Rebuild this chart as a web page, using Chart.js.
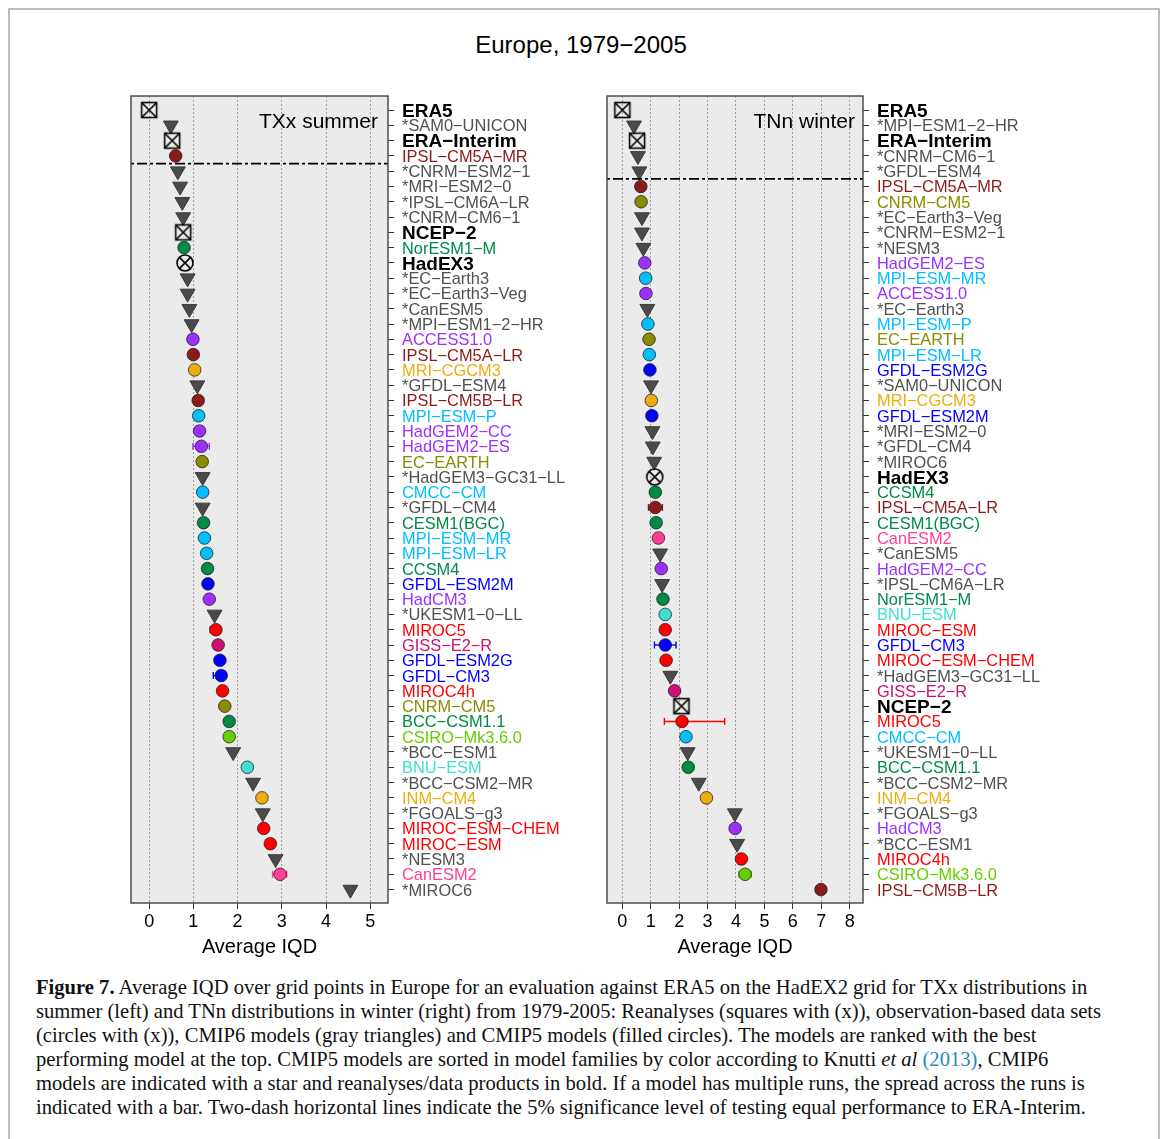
<!DOCTYPE html>
<html><head><meta charset="utf-8">
<script src="https://cdn.jsdelivr.net/npm/chart.js@4.4.1/dist/chart.umd.min.js"></script>
<style>
html,body{margin:0;padding:0;background:#fff;}
body{width:1168px;height:1139px;position:relative;overflow:hidden;font-family:'Liberation Sans',Arial,sans-serif;color:#000;}
#frame{position:absolute;left:8px;top:8px;width:1152px;height:1150px;border:2px solid #bdbdbd;box-sizing:border-box;}
#title{position:absolute;left:0;width:1162px;top:31px;text-align:center;font-size:24px;line-height:28px;}
.ptitle{position:absolute;top:108px;font-size:21px;line-height:25px;text-align:right;}
.wrap{position:absolute;top:86px;width:480px;height:873px;}
#caption{position:absolute;left:36px;top:975px;font-family:'Liberation Serif','Times New Roman',serif;font-size:20.6px;line-height:24px;white-space:nowrap;color:#111;}
#caption a{color:#1d8ac4;text-decoration:none;}
</style></head>
<body>
<div id="frame"></div>
<div id="title">Europe, 1979−2005</div>
<div class="wrap" style="left:111px"><canvas id="cL" width="480" height="873"></canvas></div>
<div class="wrap" style="left:587px"><canvas id="cR" width="480" height="873"></canvas></div>
<div class="ptitle" style="left:0;width:378px">TXx summer</div>
<div class="ptitle" style="left:0;width:855px">TNn winter</div>
<div id="caption"><b>Figure 7.</b> Average IQD over grid points in Europe for an evaluation against ERA5 on the HadEX2 grid for TXx distributions in<br>summer (left) and TNn distributions in winter (right) from 1979-2005: Reanalyses (squares with (x)), observation-based data sets<br>(circles with (x)), CMIP6 models (gray triangles) and CMIP5 models (filled circles). The models are ranked with the best<br>performing model at the top. CMIP5 models are sorted in model families by color according to Knutti <i>et al</i> <a>(2013)</a>, CMIP6<br>models are indicated with a star and reanalyses/data products in bold. If a model has multiple runs, the spread across the runs is<br>indicated with a bar. Two-dash horizontal lines indicate the 5% significance level of testing equal performance to ERA-Interim.</div>
<script>
// ---------------- DATA ----------------
const leftNames = ["ERA5","*SAM0-UNICON","ERA-Interim","IPSL-CM5A-MR","*CNRM-ESM2-1","*MRI-ESM2-0","*IPSL-CM6A-LR","*CNRM-CM6-1","NCEP-2","NorESM1-M","HadEX3","*EC-Earth3","*EC-Earth3-Veg","*CanESM5","*MPI-ESM1-2-HR","ACCESS1.0","IPSL-CM5A-LR","MRI-CGCM3","*GFDL-ESM4","IPSL-CM5B-LR","MPI-ESM-P","HadGEM2-CC","HadGEM2-ES","EC-EARTH","*HadGEM3-GC31-LL","CMCC-CM","*GFDL-CM4","CESM1(BGC)","MPI-ESM-MR","MPI-ESM-LR","CCSM4","GFDL-ESM2M","HadCM3","*UKESM1-0-LL","MIROC5","GISS-E2-R","GFDL-ESM2G","GFDL-CM3","MIROC4h","CNRM-CM5","BCC-CSM1.1","CSIRO-Mk3.6.0","*BCC-ESM1","BNU-ESM","*BCC-CSM2-MR","INM-CM4","*FGOALS-g3","MIROC-ESM-CHEM","MIROC-ESM","*NESM3","CanESM2","*MIROC6"];
const leftIQD = [0,0.49,0.52,0.60,0.65,0.70,0.75,0.77,0.77,0.79,0.81,0.87,0.87,0.91,0.96,0.99,1.00,1.03,1.09,1.11,1.12,1.14,1.18,1.20,1.21,1.21,1.21,1.23,1.25,1.30,1.32,1.33,1.36,1.48,1.51,1.56,1.60,1.63,1.66,1.71,1.81,1.81,1.90,2.22,2.35,2.55,2.57,2.59,2.74,2.86,2.96,4.55];
const leftSpreadModels = ["HadGEM2-ES","MIROC5","GFDL-CM3","CanESM2"];
const leftSpreadLow  = [0.99,1.38,1.45,2.79];
const leftSpreadHigh = [1.36,1.60,1.70,3.11];
const leftSigRank = 4;   // significance line below this rank

const rightNames = ["ERA5","*MPI-ESM1-2-HR","ERA-Interim","*CNRM-CM6-1","*GFDL-ESM4","IPSL-CM5A-MR","CNRM-CM5","*EC-Earth3-Veg","*CNRM-ESM2-1","*NESM3","HadGEM2-ES","MPI-ESM-MR","ACCESS1.0","*EC-Earth3","MPI-ESM-P","EC-EARTH","MPI-ESM-LR","GFDL-ESM2G","*SAM0-UNICON","MRI-CGCM3","GFDL-ESM2M","*MRI-ESM2-0","*GFDL-CM4","*MIROC6","HadEX3","CCSM4","IPSL-CM5A-LR","CESM1(BGC)","CanESM2","*CanESM5","HadGEM2-CC","*IPSL-CM6A-LR","NorESM1-M","BNU-ESM","MIROC-ESM","GFDL-CM3","MIROC-ESM-CHEM","*HadGEM3-GC31-LL","GISS-E2-R","NCEP-2","MIROC5","CMCC-CM","*UKESM1-0-LL","BCC-CSM1.1","*BCC-CSM2-MR","INM-CM4","*FGOALS-g3","HadCM3","*BCC-ESM1","MIROC4h","CSIRO-Mk3.6.0","IPSL-CM5B-LR"];
const rightIQD = [0,0.41,0.52,0.55,0.60,0.65,0.66,0.69,0.69,0.74,0.79,0.82,0.83,0.88,0.90,0.94,0.95,0.97,1.01,1.02,1.04,1.06,1.07,1.12,1.14,1.16,1.16,1.19,1.27,1.33,1.37,1.40,1.43,1.51,1.51,1.51,1.54,1.69,1.84,2.08,2.10,2.24,2.30,2.32,2.69,2.96,3.96,3.97,4.04,4.19,4.32,6.99];
const rightSpreadModels = ["IPSL-CM5A-LR","GFDL-CM3","MIROC5","CSIRO-Mk3.6.0"];
const rightSpreadLow  = [0.92,1.13,1.48,4.10];
const rightSpreadHigh = [1.41,1.89,3.60,4.54];
const rightSigRank = 5;

const leftXTicks = [0,1,2,3,4,5];
const rightXTicks = [0,1,2,3,4,5,6,7,8];

// ---------------- STYLE ----------------
const reanalyses = ["ERA5","ERA-Interim","NCEP-2"];
const observations = ["HadEX3"];
const familyColor = {
  "IPSL-CM5A-MR":"#8B1A1A","IPSL-CM5A-LR":"#8B1A1A","IPSL-CM5B-LR":"#8B1A1A",
  "CNRM-CM5":"#8B8B00","EC-EARTH":"#8B8B00",
  "NorESM1-M":"#008B45","CESM1(BGC)":"#008B45","CCSM4":"#008B45","BCC-CSM1.1":"#008B45",
  "ACCESS1.0":"#9B30FF","HadGEM2-CC":"#9B30FF","HadGEM2-ES":"#9B30FF","HadCM3":"#9B30FF",
  "MRI-CGCM3":"#EEAD0E","INM-CM4":"#EEAD0E",
  "MPI-ESM-P":"#00BFFF","MPI-ESM-MR":"#00BFFF","MPI-ESM-LR":"#00BFFF","CMCC-CM":"#00BFFF",
  "GFDL-ESM2M":"#0000FF","GFDL-ESM2G":"#0000FF","GFDL-CM3":"#0000FF",
  "MIROC5":"#FF0000","MIROC4h":"#FF0000","MIROC-ESM":"#FF0000","MIROC-ESM-CHEM":"#FF0000",
  "GISS-E2-R":"#CD1076","CSIRO-Mk3.6.0":"#66CD00","BNU-ESM":"#40E0D0","CanESM2":"#FF3E96"
};
const CMIP6_GRAY = "#4a4a4a";
function kind(n){
  if (reanalyses.includes(n)) return "rea";
  if (observations.includes(n)) return "obs";
  if (n.startsWith("*")) return "cmip6";
  return "cmip5";
}
function labelColor(n){
  const k = kind(n);
  if (k==="rea"||k==="obs") return "#000";
  if (k==="cmip6") return "#505050";
  return familyColor[n] || "#000";
}
function disp(n){ return n.replace(/-/g,"\u2212"); }

function makeBoxX(){
  const c=document.createElement('canvas'); c.width=20; c.height=20;
  const g=c.getContext('2d'); g.strokeStyle='#000'; g.lineWidth=1.6;
  g.strokeRect(2.5,2.5,15,15);
  g.beginPath(); g.moveTo(2.5,2.5); g.lineTo(17.5,17.5); g.moveTo(17.5,2.5); g.lineTo(2.5,17.5); g.stroke();
  return c;
}
function makeCircX(){
  const c=document.createElement('canvas'); c.width=20; c.height=20;
  const g=c.getContext('2d'); g.strokeStyle='#000'; g.lineWidth=1.6;
  g.beginPath(); g.arc(10,10,8,0,Math.PI*2); g.stroke();
  const d=8*Math.SQRT1_2;
  g.beginPath(); g.moveTo(10-d,10-d); g.lineTo(10+d,10+d); g.moveTo(10+d,10-d); g.lineTo(10-d,10+d); g.stroke();
  return c;
}
const BOXX = makeBoxX(), CIRCX = makeCircX();

Chart.defaults.font.family = "'Liberation Sans', Arial, Helvetica, sans-serif";
Chart.defaults.color = "#000";

const panelPlugin = {
  id:'panel',
  beforeDraw(chart){
    const a=chart.chartArea, c=chart.ctx;
    c.save(); c.fillStyle='#ebebeb'; c.fillRect(a.left,a.top,a.right-a.left,a.bottom-a.top); c.restore();
  },
  afterDraw(chart){
    const a=chart.chartArea, c=chart.ctx;
    c.save(); c.strokeStyle='#4d4d4d'; c.lineWidth=1.5;
    c.strokeRect(a.left,a.top,a.right-a.left,a.bottom-a.top); c.restore();
  }
};

function build(canvasId, names, vals, spM, spLo, spHi, sigRank, xTicks, xRange, axisW){
  const pts = names.map((n,i)=>({x:vals[i], y:i+1}));
  const styles = names.map(n=>{const k=kind(n); return k==="rea"?BOXX:k==="obs"?CIRCX:k==="cmip6"?"triangle":"circle";});
  const radii = names.map(n=>{const k=kind(n); return k==="cmip6"?8.6:k==="cmip5"?6.3:8;});
  const fills = names.map(n=>{const k=kind(n); return k==="cmip6"?CMIP6_GRAY:k==="cmip5"?familyColor[n]:"rgba(0,0,0,0)";});
  const borders = names.map(n=>{const k=kind(n); return k==="cmip6"?"#3c3c3c":"rgba(30,30,30,0.75)";});
  const rots = names.map(n=>kind(n)==="cmip6"?180:0);
  const datasets = [];
  datasets.push({
    data:[{x:xRange[0],y:sigRank+0.5},{x:xRange[1],y:sigRank+0.5}],
    showLine:true, borderColor:'#000', borderWidth:1.8, borderDash:[3,3,10,3], pointRadius:0, order:-1
  });
  spM.forEach((m,j)=>{
    const row = names.indexOf(m)+1; const col = familyColor[m];
    datasets.push({
      data:[{x:spLo[j],y:row},{x:spHi[j],y:row}], showLine:true, borderColor:col, borderWidth:1.4,
      pointStyle:'line', pointRotation:90, pointRadius:3.5, pointBorderColor:col, pointBorderWidth:1.4, order:1
    });
  });
  datasets.push({
    data:pts, showLine:false, pointStyle:styles, pointRadius:radii, pointBackgroundColor:fills,
    pointBorderColor:borders, pointBorderWidth:1, pointRotation:rots, order:0
  });
  return new Chart(document.getElementById(canvasId), {
    type:'scatter',
    data:{datasets},
    plugins:[panelPlugin],
    options:{
      responsive:false, animation:false,
      layout:{padding:{left:20,top:10,right:0,bottom:0}},
      plugins:{legend:{display:false}, tooltip:{enabled:false}},
      scales:{
        x:{type:'linear', min:xRange[0], max:xRange[1],
          afterBuildTicks:s=>{ s.ticks = xTicks.map(v=>({value:v})); },
          ticks:{font:{size:18}, color:'#000', padding:2, autoSkip:false, maxRotation:0, callback:v=>String(v)},
          grid:{color:'#a0a0a0', lineWidth:1, drawTicks:true, tickLength:6, tickColor:'#333', tickWidth:1},
          border:{display:false, dash:[2,2]},
          title:{display:true, text:'Average IQD', font:{size:20}, color:'#000', padding:0},
          afterFit:s=>{ s.height = 56; s.paddingLeft = 0; s.paddingRight = 0; }
        },
        y:{type:'linear', position:'right', reverse:true, min:0.08, max:52.88,
          afterBuildTicks:s=>{ s.ticks = names.map((n,i)=>({value:i+1})); },
          ticks:{autoSkip:false, padding:8, labelOffset:1.5,
            callback:(v)=>disp(names[Math.round(v)-1]||""),
            color:ctx=>labelColor(names[ctx.index]||""),
            font:ctx=>{const n=names[ctx.index]||""; const k=kind(n); return (k==="rea"||k==="obs")?{size:19,weight:'bold'}:{size:16.4};}
          },
          grid:{drawOnChartArea:false, drawTicks:true, tickLength:6, tickColor:'#333'},
          border:{display:false},
          afterFit:s=>{ s.width = axisW; s.paddingTop = 0; s.paddingBottom = 0; }
        }
      }
    }
  });
}

build('cL', leftNames, leftIQD, leftSpreadModels, leftSpreadLow, leftSpreadHigh, leftSigRank, leftXTicks, [-0.41,5.40], 203);
build('cR', rightNames, rightIQD, rightSpreadModels, rightSpreadLow, rightSpreadHigh, rightSigRank, rightXTicks, [-0.54,8.47], 204);
</script>
</body></html>
